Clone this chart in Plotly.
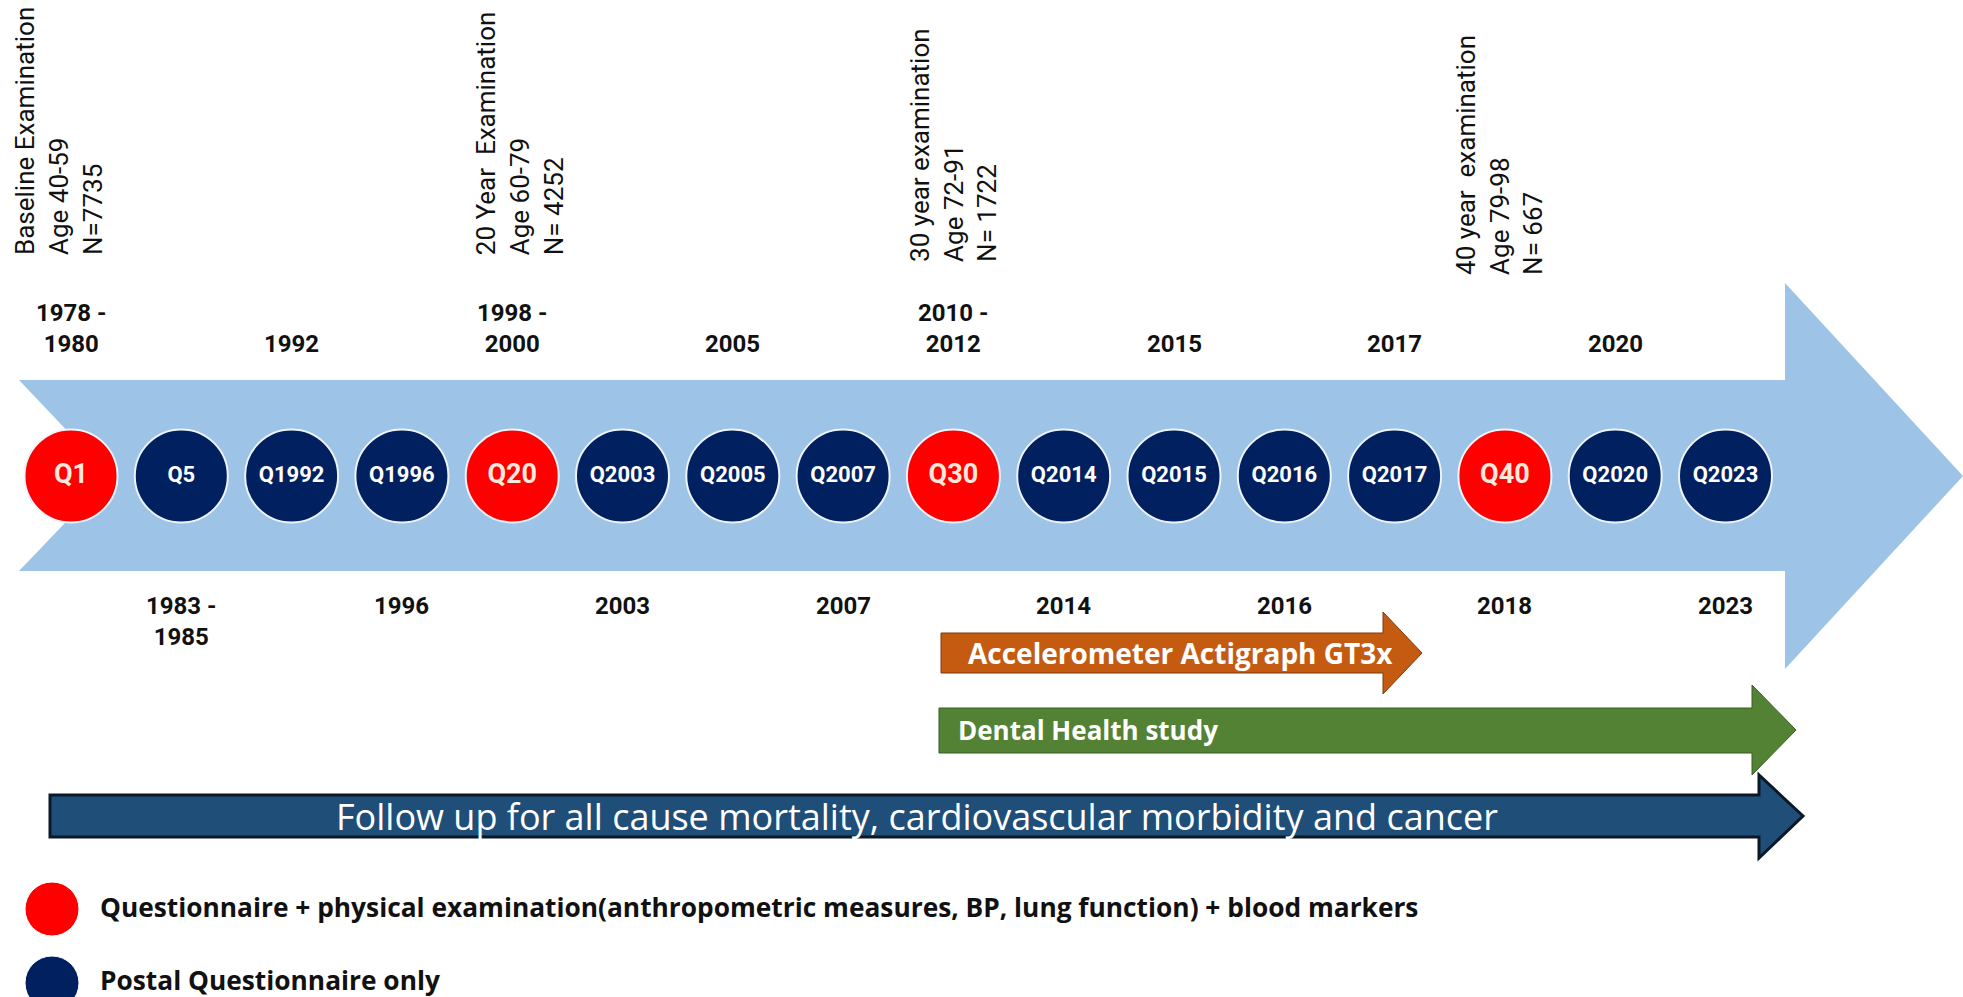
import plotly.graph_objects as go

# ---------------- data ----------------
visit_labels = ["Q1", "Q5", "Q1992", "Q1996", "Q20", "Q2003", "Q2005", "Q2007",
                "Q30", "Q2014", "Q2015", "Q2016", "Q2017", "Q40", "Q2020", "Q2023"]
visit_types = ["exam", "postal", "postal", "postal", "exam", "postal", "postal", "postal",
               "exam", "postal", "postal", "postal", "postal", "exam", "postal", "postal"]
visit_years = ["1978 -<br>1980", "1983 -<br>1985", "1992", "1996", "1998 -<br>2000", "2003",
               "2005", "2007", "2010 -<br>2012", "2014", "2015", "2016", "2017", "2018",
               "2020", "2023"]

exam_visits = ["Q1", "Q20", "Q30", "Q40"]
exam_titles = ["Baseline Examination", "20 Year  Examination", "30 year examination", "40 year  examination"]
exam_ages = ["Age 40-59", "Age 60-79", "Age 72-91", "Age 79-98"]
exam_ns = ["N=7735", "N= 4252", "N= 1722", "N= 667"]

substudies = ["Accelerometer Actigraph GT3x", "Dental Health study",
              "Follow up for all cause mortality, cardiovascular morbidity and cancer"]

legend_labels = ["Questionnaire + physical examination(anthropometric measures, BP, lung function) + blood markers",
                 "Postal Questionnaire only"]

# ---------------- styling ----------------
W, H = 1963, 997
FIRST_PX, STEP_PX = 71.0, 110.3       # pixel position of slot 0 and slot spacing
FONT = "Roboto"
BFONT = "Open Sans"
RED, NAVY = "#FF0000", "#002060"
LIGHT_BLUE = "#9DC3E6"
ORANGE, GREEN, DARK_BLUE = "#C55A11", "#548235", "#1F4E79"


def sx(px):
    """layout pixel -> x-axis slot units"""
    return (px - FIRST_PX) / STEP_PX


def path(points):
    return "M " + " L ".join(f"{sx(x):.4f},{y}" for x, y in points) + " Z"


fig = go.Figure()

# Shapes (arrows)
shapes = []
shapes.append(dict(type="path", layer="below", fillcolor=LIGHT_BLUE, line=dict(width=0),
                   xref="x", yref="y",
                   path=path([(19, 380), (1785, 380), (1785, 283), (1963, 476), (1785, 669),
                              (1785, 571), (19, 571), (110, 476)])))
shapes.append(dict(type="path", layer="below", fillcolor=ORANGE, line=dict(color="#7a3a10", width=1),
                   xref="x", yref="y",
                   path=path([(941, 633), (1383, 633), (1383, 612), (1422, 653), (1383, 694),
                              (1383, 673), (941, 673)])))
shapes.append(dict(type="path", layer="below", fillcolor=GREEN, line=dict(color="#3b5c25", width=1),
                   xref="x", yref="y",
                   path=path([(939, 708), (1752, 708), (1752, 685), (1796, 730), (1752, 775),
                              (1752, 753), (939, 753)])))
shapes.append(dict(type="path", layer="below", fillcolor=DARK_BLUE, line=dict(color="#0b1828", width=3),
                   xref="x", yref="y",
                   path=path([(50, 795), (1759, 795), (1759, 775), (1803, 816), (1759, 858),
                              (1759, 837), (50, 837)])))

# Visit circles
idx = list(range(len(visit_labels)))
colors = [RED if t == "exam" else NAVY for t in visit_types]
tsizes = [27 if t == "exam" else 22 for t in visit_types]
tcolors = ["#FFE8DC" if t == "exam" else "white" for t in visit_types]
fig.add_trace(go.Scatter(
    x=idx, y=[476] * len(idx), mode="markers+text",
    marker=dict(size=93, color=colors, line=dict(color="#eef3fa", width=2)),
    text=visit_labels, textposition="middle center",
    textfont=dict(family=FONT, size=tsizes, color=tcolors, weight="bold"),
    hoverinfo="skip", showlegend=False))

annotations = []
# Year labels: even above, odd below
for i, yr in enumerate(visit_years):
    if i % 2 == 0:
        annotations.append(dict(x=i, y=360, xref="x", yref="y", text=yr, showarrow=False,
                                xanchor="center", yanchor="bottom",
                                font=dict(family=FONT, size=24, color="#111111", weight="bold")))
    else:
        annotations.append(dict(x=i, y=590, xref="x", yref="y", text=yr, showarrow=False,
                                xanchor="center", yanchor="top",
                                font=dict(family=FONT, size=24, color="#111111", weight="bold")))

# Rotated exam labels
exam_xshift = [-12, 8, 0, -5]
exam_bottom = [257, 257, 264, 277]
for k, v in enumerate(exam_visits):
    i = visit_labels.index(v)
    annotations.append(dict(x=i, y=exam_bottom[k], xref="x", yref="y", xshift=exam_xshift[k],
                            text=f"{exam_titles[k]}<br>{exam_ages[k]}<br>{exam_ns[k]}",
                            showarrow=False, textangle=-90, align="left",
                            xanchor="center", yanchor="bottom",
                            font=dict(family=FONT, size=26, color="#111111")))

# Substudy texts
annotations.append(dict(x=sx(966), y=653, xref="x", yref="y", text=substudies[0], showarrow=False,
                        xanchor="left", yanchor="middle",
                        font=dict(family=BFONT, size=28, color="white", weight="bold")))
annotations.append(dict(x=sx(956), y=730, xref="x", yref="y", text=substudies[1], showarrow=False,
                        xanchor="left", yanchor="middle",
                        font=dict(family=BFONT, size=26, color="white", weight="bold")))
annotations.append(dict(x=sx(917), y=816, xref="x", yref="y", text=substudies[2], showarrow=False,
                        xanchor="center", yanchor="middle",
                        font=dict(family=BFONT, size=36, color="white")))

# Legend
fig.add_trace(go.Scatter(
    x=[sx(52), sx(52)], y=[909, 983], mode="markers",
    marker=dict(size=54, color=[RED, NAVY], line=dict(color="white", width=1)),
    hoverinfo="skip", showlegend=False))
for lbl, yy in zip(legend_labels, [907, 980]):
    annotations.append(dict(x=sx(98), y=yy, xref="x", yref="y", text=lbl, showarrow=False,
                            xanchor="left", yanchor="middle",
                            font=dict(family=BFONT, size=26.3, color="#111111", weight="bold")))

fig.update_layout(
    width=W, height=H, margin=dict(l=0, r=0, t=0, b=0),
    paper_bgcolor="white", plot_bgcolor="white",
    xaxis=dict(range=[sx(0), sx(W)], visible=False, fixedrange=True),
    yaxis=dict(range=[H, 0], visible=False, fixedrange=True),
    shapes=shapes, annotations=annotations, showlegend=False,
)

fig.write_html("out.html", config={"displayModeBar": False},
               post_script="document.body.style.margin='0';document.body.style.overflow='hidden';")
